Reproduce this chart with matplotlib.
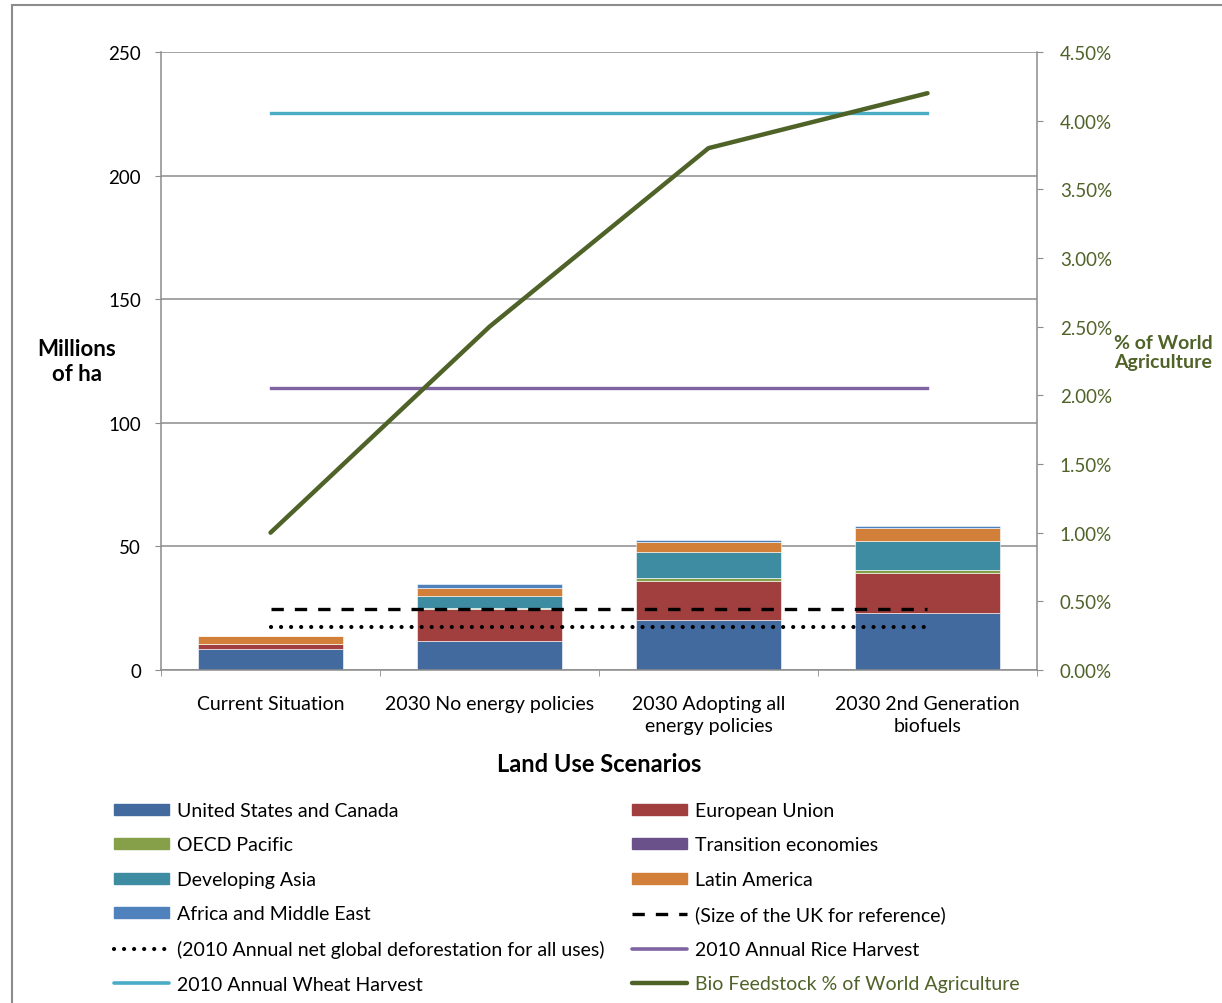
import numpy as np
import matplotlib.pyplot as plt
from matplotlib.patches import Rectangle
from matplotlib.lines import Line2D
from matplotlib.ticker import FuncFormatter

plt.rcParams['font.family'] = ['Lato', 'DejaVu Sans']

# Scenarios
scenarios = ['Current Situation', '2030 No energy policies',
             '2030 Adopting all\nenergy policies', '2030 2nd Generation\nbiofuels']

# Land use by region (millions of ha)
us_canada = [8.5, 11.9, 20.4, 22.9]
eu = [2.0, 12.8, 15.5, 16.3]
oecd_pacific = [0.0, 0.5, 1.3, 1.4]
transition = [0.0, 0.0, 0.0, 0.0]
dev_asia = [0.0, 4.8, 10.4, 11.5]
latin_america = [3.2, 3.3, 4.1, 5.2]
africa_me = [0.0, 1.4, 0.9, 1.0]

# Reference levels (millions of ha)
uk_size = 24.7
deforestation = 17.4
rice_harvest = 114.1
wheat_harvest = 225.3

# Bio feedstock share of world agriculture (%)
bio_share = [1.0, 2.5, 3.8, 4.2]

regions = [
    ('United States and Canada', us_canada, '#426A9E'),
    ('European Union', eu, '#A03F3E'),
    ('OECD Pacific', oecd_pacific, '#86A04A'),
    ('Transition economies', transition, '#6A5189'),
    ('Developing Asia', dev_asia, '#3E8CA2'),
    ('Latin America', latin_america, '#D27F3A'),
    ('Africa and Middle East', africa_me, '#4F81BD'),
]

grey = '#8C8C8C'
green = '#4F6228'

fig = plt.figure(figsize=(12.22, 10.04), dpi=100)
ax = fig.add_axes([0.1318, 0.3317, 0.7168, 0.6155])
ax2 = ax.twinx()

x = np.arange(len(scenarios))
bottom = np.zeros(len(scenarios))
handles = {}
for name, vals, col in regions:
    ax.bar(x, vals, 0.66, bottom=bottom, color=col, edgecolor='white',
           linewidth=0.4, zorder=2)
    bottom += np.array(vals)
    handles[name] = Rectangle((0, 0), 1, 1, color=col)

dash_style = dict(color='black', lw=2.4, dashes=(3.7, 3.3))
dot_style = dict(color='black', lw=3.0, dashes=(0.01, 2.4), dash_capstyle='round')

ends = [x[0], x[-1]]
ax.plot(ends, [uk_size] * 2, zorder=3, **dash_style)
ax.plot(ends, [deforestation] * 2, zorder=3, **dot_style)
ax.plot(ends, [rice_harvest] * 2, color='#8064A2', lw=2.4, zorder=3)
ax.plot(ends, [wheat_harvest] * 2, color='#4BACC6', lw=2.4, zorder=3)
ax2.plot(x, bio_share, color=green, lw=3.2, solid_capstyle='round', zorder=3)

# left axis
ax.set_xlim(-0.5, 3.5)
ax.set_ylim(0, 250)
ax.set_yticks(np.arange(0, 251, 50))
ax.yaxis.grid(True, color=grey, lw=1.1)
ax.set_axisbelow(True)
ax.tick_params(axis='y', length=4.5, color=grey, pad=10, labelsize=13.5)
ax.set_xticks(x)
ax.set_xticklabels(scenarios, fontsize=14, linespacing=1.35)
ax.set_xticks(np.arange(-0.5, 4, 1), minor=True)
ax.tick_params(axis='x', which='major', length=0, pad=18)
ax.tick_params(axis='x', which='minor', length=4.5, color=grey)
for s in ['top', 'right']:
    ax.spines[s].set_visible(False)
for s in ['left', 'bottom']:
    ax.spines[s].set_color(grey)
    ax.spines[s].set_linewidth(1.1)

# right axis
ax2.set_ylim(0, 4.5)
ax2.set_yticks(np.arange(0, 4.51, 0.5))
ax2.yaxis.set_major_formatter(FuncFormatter(lambda v, p: f'{v:.2f}%'))
ax2.tick_params(axis='y', length=4.5, color=grey, pad=12, labelsize=13.5,
                labelcolor=green)
for s in ['top', 'left', 'bottom']:
    ax2.spines[s].set_visible(False)
ax2.spines['right'].set_color(grey)
ax2.spines['right'].set_linewidth(1.1)

fig.text(77 / 1222, 1 - 362 / 1004, 'Millions\nof ha', ha='center', va='center',
         fontsize=16, fontweight='bold', linespacing=1.25)
fig.text(1163 / 1222, 1 - 353 / 1004, '% of World\nAgriculture', ha='center',
         va='center', fontsize=14, fontweight='bold', color=green,
         linespacing=1.2)
fig.text(599 / 1222, 1 - 765 / 1004, 'Land Use Scenarios', ha='center',
         va='center', fontsize=17, fontweight='bold')

# legend, two columns
uk_h = Line2D([], [], **dash_style)
def_h = Line2D([], [], **dot_style)
rice_h = Line2D([], [], color='#8064A2', lw=2.6, solid_capstyle='round')
wheat_h = Line2D([], [], color='#4BACC6', lw=2.6, solid_capstyle='round')
bio_h = Line2D([], [], color=green, lw=3.2, solid_capstyle='round')

left_items = [(handles['United States and Canada'], 'United States and Canada'),
              (handles['OECD Pacific'], 'OECD Pacific'),
              (handles['Developing Asia'], 'Developing Asia'),
              (handles['Africa and Middle East'], 'Africa and Middle East'),
              (def_h, '(2010 Annual net global deforestation for all uses)'),
              (wheat_h, '2010 Annual Wheat Harvest')]
right_items = [(handles['European Union'], 'European Union'),
               (handles['Transition economies'], 'Transition economies'),
               (handles['Latin America'], 'Latin America'),
               (uk_h, '(Size of the UK for reference)'),
               (rice_h, '2010 Annual Rice Harvest'),
               (bio_h, 'Bio Feedstock % of World Agriculture')]

leg_kw = dict(loc='upper left', frameon=False, fontsize=14, handlelength=2.85,
              handleheight=0.5, handletextpad=0.4, labelspacing=0.9,
              borderpad=0, borderaxespad=0)
leg1 = fig.legend([h for h, _ in left_items], [t for _, t in left_items],
                  bbox_to_anchor=(114 / 1222, 1 - 803 / 1004), **leg_kw)
leg2 = fig.legend([h for h, _ in right_items], [t for _, t in right_items],
                  bbox_to_anchor=(632 / 1222, 1 - 803 / 1004), **leg_kw)
leg2.get_texts()[-1].set_color(green)

# outer frame
fig.patches.append(Rectangle((12 / 1222, -0.05), 1.1, 1 - 6 / 1004 + 0.05,
                             transform=fig.transFigure, fill=False,
                             edgecolor=grey, lw=1.5))

fig.savefig('out.png', dpi=100)
